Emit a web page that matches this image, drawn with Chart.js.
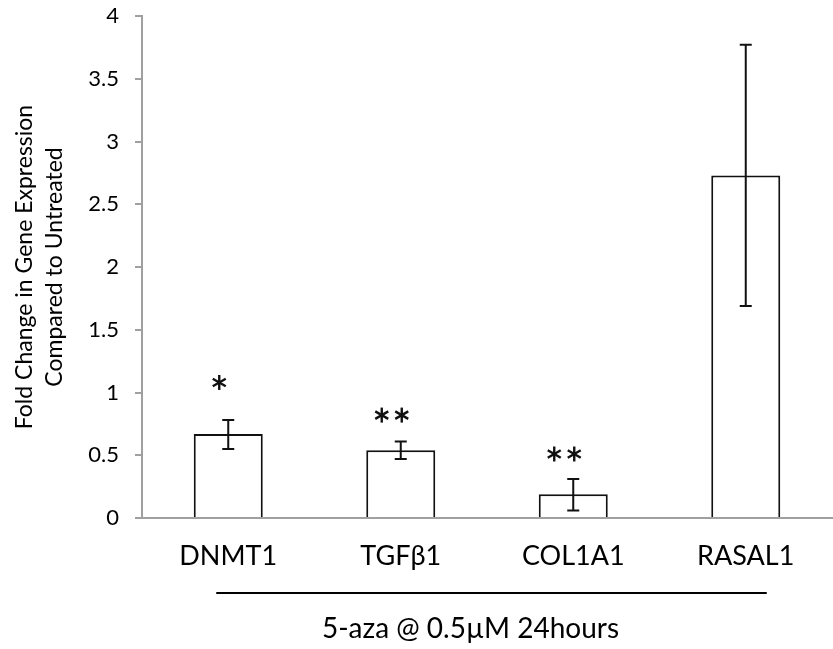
<!DOCTYPE html>
<html>
<head>
<meta charset="utf-8">
<script src="https://cdn.jsdelivr.net/npm/chart.js@4/dist/chart.umd.min.js"></script>
<style>
  html, body { margin: 0; padding: 0; background: #fff; }
  #wrap { width: 833px; height: 649px; }
</style>
</head>
<body>
<div id="wrap"><canvas id="myChart" width="833" height="649"></canvas></div>
<script>
'use strict';

// ---- data
var genes = ['DNMT1', 'TGF\u03b21', 'COL1A1', 'RASAL1'];
var foldChange = [0.67, 0.54, 0.19, 2.73];
var errLow = [0.55, 0.47, 0.06, 1.69];
var errHigh = [0.78, 0.61, 0.31, 3.77];
var stars = ['*', '**', '**', ''];
var starLevel = [1.08, 0.82, 0.51, null];
var yMin = 0, yMax = 4, yStep = 0.5;
var yTitle = ['Fold Change in Gene Expression', 'Compared to Untreated'];
var groupLabel = '5-aza @ 0.5\u00b5M 24hours';

var FONT = 'Lato, "Open Sans", sans-serif';
var AXIS_GRAY = '#a0a0a0';

// draws one six-armed asterisk
function drawStar(ctx, cx, cy, r) {
    for (var k = 0; k < 3; k++) {
        var a = Math.PI / 2 + k * Math.PI / 3;
        ctx.beginPath();
        ctx.moveTo(cx - r * Math.cos(a), cy - r * Math.sin(a));
        ctx.lineTo(cx + r * Math.cos(a), cy + r * Math.sin(a));
        ctx.stroke();
    }
}

// error bars, asterisks, group line and caption
var extras = {
    id: 'extras',
    afterDatasetsDraw: function (chart) {
        var ctx = chart.ctx;
        var x = chart.scales.x, y = chart.scales.y;
        ctx.save();
        ctx.strokeStyle = '#111';
        ctx.lineWidth = 2;
        for (var i = 0; i < genes.length; i++) {
            var cx = x.getPixelForValue(i);
            var yt = y.getPixelForValue(errHigh[i]);
            var yb = y.getPixelForValue(errLow[i]);
            ctx.beginPath();
            ctx.moveTo(cx, yt); ctx.lineTo(cx, yb);
            ctx.moveTo(cx - 6, yt); ctx.lineTo(cx + 6, yt);
            ctx.moveTo(cx - 6, yb); ctx.lineTo(cx + 6, yb);
            ctx.stroke();

            if (stars[i]) {
                var n = stars[i].length;
                var sy = y.getPixelForValue(starLevel[i]);
                var gx = cx - 9;
                ctx.lineWidth = 2.4;
                for (var s = 0; s < n; s++) {
                    var sx = gx + (s - (n - 1) / 2) * 20;
                    drawStar(ctx, sx, sy, 7.5);
                }
                ctx.lineWidth = 2;
            }
        }

        // group line under the labels
        var x0 = x.getPixelForValue(0) - 12;
        var x1 = x.getPixelForValue(genes.length - 1) + 21;
        ctx.strokeStyle = '#000';
        ctx.lineWidth = 2;
        ctx.beginPath();
        ctx.moveTo(x0, 593); ctx.lineTo(x1, 593);
        ctx.stroke();

        ctx.fillStyle = '#000';
        ctx.font = '28px ' + FONT;
        ctx.textAlign = 'center';
        ctx.textBaseline = 'alphabetic';
        ctx.fillText(groupLabel, (x0 + x1) / 2 - 21, 638);
        ctx.restore();
    }
};

var ctx = document.getElementById('myChart').getContext('2d');
var chart = new Chart(ctx, {
    type: 'bar',
    data: {
        labels: genes,
        datasets: [{
            data: foldChange,
            backgroundColor: '#ffffff',
            borderColor: '#111111',
            borderWidth: 2,
            barPercentage: 0.4,
            categoryPercentage: 1
        }]
    },
    options: {
        responsive: false,
        animation: false,
        layout: { padding: { top: 16, right: 1, left: 0, bottom: 0 } },
        plugins: {
            legend: { display: false },
            tooltip: { enabled: false }
        },
        scales: {
            x: {
                afterFit: function (s) { s.height = 131; s.paddingLeft = 0; s.paddingRight = 0; },
                grid: { display: false, drawTicks: false },
                border: { display: true, color: AXIS_GRAY, width: 2 },
                ticks: {
                    color: '#000',
                    padding: 22,
                    font: { family: FONT, size: 27 }
                }
            },
            y: {
                min: yMin,
                max: yMax,
                afterFit: function (s) { s.width = 142; s.paddingTop = 0; s.paddingBottom = 0; },
                grid: {
                    drawOnChartArea: false,
                    drawTicks: true,
                    tickLength: 7,
                    color: AXIS_GRAY,
                    lineWidth: 2
                },
                border: { display: true, color: AXIS_GRAY, width: 2 },
                ticks: {
                    stepSize: yStep,
                    color: '#000',
                    padding: 16,
                    font: { family: FONT, size: 22 },
                    callback: function (v) { return String(v); }
                },
                title: {
                    display: true,
                    text: yTitle,
                    color: '#000',
                    font: { family: FONT, size: 23, lineHeight: 1.3 },
                    padding: { top: 10, bottom: 0 }
                }
            }
        }
    },
    plugins: [extras]
});
</script>
</body>
</html>
